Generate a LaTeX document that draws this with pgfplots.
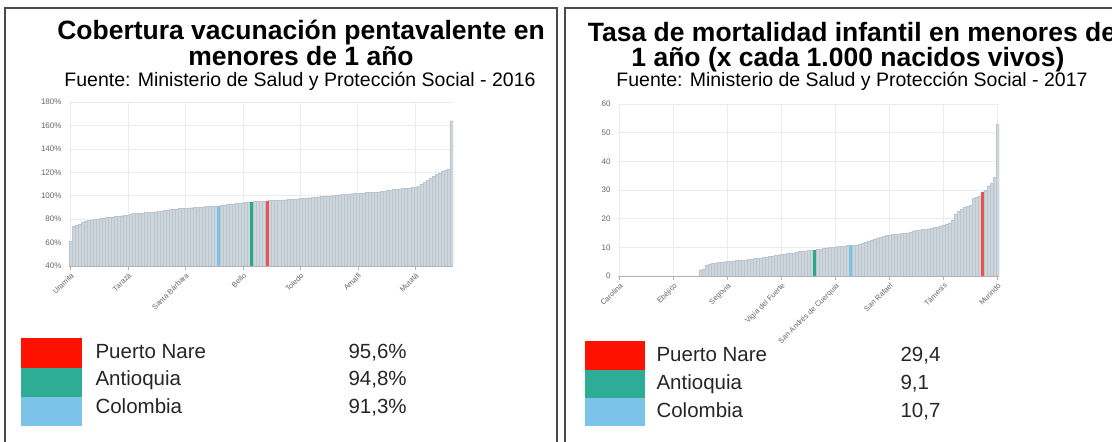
\documentclass[border=0pt]{standalone}
\usepackage{pgfplots}
\pgfplotsset{compat=1.18}
\usepackage{pgfplotstable}
\usepackage{fontspec}
\setmainfont{Liberation Sans}
\definecolor{barfill}{HTML}{CED6DD}
\definecolor{baredge}{HTML}{BCC5CD}
\definecolor{cred}{HTML}{E8554E}
\definecolor{cgreen}{HTML}{2BA88A}
\definecolor{cblue}{HTML}{7CC3EA}
\definecolor{lred}{HTML}{FF1100}
\definecolor{lgreen}{HTML}{2FAC95}
\definecolor{lblue}{HTML}{7BC3E9}
\definecolor{gridc}{HTML}{EBEBEB}
\definecolor{tickc}{HTML}{666666}
\definecolor{framec}{HTML}{4A4A4A}

\pgfplotstableread{
i v
0 61
1 74
2 75
3 76
4 77.5
5 78.5
6 79
7 79.5
8 80
9 80.3
10 80.6
11 81
12 81.3
13 81.7
14 82
15 82.3
16 82.6
17 82.9
18 83.2
19 83.5
20 84.5
21 84.8
22 85
23 85.2
24 85.4
25 85.6
26 85.8
27 86
28 86.3
29 86.6
30 86.9
31 87.3
32 87.7
33 88.2
34 88.5
35 88.8
36 89
37 89.2
38 89.4
39 89.6
40 89.8
41 90
42 90.2
43 90.4
44 90.6
45 90.8
46 91
47 91.1
48 91.2
49 91.3
50 91.6
51 92
52 92.4
53 92.8
54 93.1
55 93.4
56 93.7
57 94
58 94.3
59 94.6
60 94.8
61 95
62 95.1
63 95.3
64 95.5
65 95.6
66 95.8
67 96
68 96.2
69 96.4
70 96.5
71 96.6
72 96.7
73 96.8
74 97
75 97.3
76 97.6
77 97.9
78 98.1
79 98.3
80 98.5
81 98.7
82 99
83 99.3
84 99.6
85 99.8
86 100
87 100.3
88 100.6
89 100.9
90 101.1
91 101.3
92 101.5
93 101.7
94 101.9
95 102.1
96 102.3
97 102.5
98 102.7
99 102.8
100 103
101 103.1
102 103.3
103 103.5
104 104
105 104.4
106 104.8
107 105.2
108 105.5
109 105.8
110 106.1
111 106.4
112 106.7
113 107
114 107.4
115 108
116 109.5
117 111.5
118 113
119 115
120 116.5
121 118
122 119.5
123 121
124 122
125 123
126 164
}\vac

\pgfplotstableread{
i v
0 0
1 0
2 0
3 0
4 0
5 0
6 0
7 0
8 0
9 0
10 0
11 0
12 0
13 0
14 0
15 0
16 0
17 0
18 0
19 0
20 0
21 0
22 0
23 0
24 0
25 0
26 0
27 2.2
28 2.4
29 3.8
30 4.2
31 4.4
32 4.5
33 4.7
34 4.9
35 5.0
36 5.1
37 5.2
38 5.3
39 5.4
40 5.5
41 5.6
42 5.7
43 5.8
44 5.9
45 6.1
46 6.2
47 6.3
48 6.5
49 6.6
50 6.8
51 7.0
52 7.2
53 7.4
54 7.5
55 7.6
56 7.8
57 7.9
58 8.1
59 8.3
60 8.5
61 8.7
62 8.8
63 8.9
64 9.0
65 9.1
66 9.2
67 9.4
68 9.6
69 9.8
70 10
71 10.1
72 10.2
73 10.3
74 10.4
75 10.5
76 10.6
77 10.7
78 10.8
79 10.9
80 11.1
81 11.4
82 11.8
83 12.2
84 12.6
85 12.9
86 13.3
87 13.6
88 13.9
89 14.1
90 14.3
91 14.5
92 14.6
93 14.7
94 14.8
95 14.9
96 15.1
97 15.4
98 15.8
99 16
100 16.1
101 16.2
102 16.3
103 16.5
104 16.7
105 16.9
106 17.2
107 17.5
108 17.8
109 18.1
110 18.6
111 19.5
112 21.5
113 22.5
114 23.3
115 24
116 24.4
117 24.8
118 27
119 27.5
120 28
121 29.4
122 30
123 31.5
124 32.5
125 34.5
126 53
}\mort

\pgfplotsset{
  barchart/.style={
    scale only axis,
    anchor=south west,
    xmin=-0.5, xmax=126.5,
    axis lines*=left,
    axis line style={-},
    y axis line style={draw=none},
    x axis line style={draw=black!30},
    ytick style={draw=none},
    xtick style={draw=black!30},
    tick align=outside,
    major tick length=4pt,
    grid=major,
    grid style={draw=gridc, line width=0.7pt},
    /pgf/number format/assume math mode=true,
    yticklabel style={font=\fontsize{8}{9}\selectfont, text=tickc},
    xticklabel style={font=\fontsize{7.5}{8}\selectfont, text=tickc, rotate=45, anchor=north east, inner sep=1.5pt},
    clip=true,
  },
  graybar/.style={ybar, bar width=1, bar shift=0, fill=barfill, draw=baredge, line width=0.3pt},
  colbar/.style={ybar, bar width=1, bar shift=0, fill=#1, draw=none},
}

\begin{document}
\begin{tikzpicture}
\useasboundingbox (0pt,0pt) rectangle (1112pt,442pt);
\clip (0pt,0pt) rectangle (1112pt,442pt);
\fill[white] (0pt,0pt) rectangle (1112pt,442pt);

\begin{scope}[x=1pt,y=1pt]
% frames
\draw[framec, line width=1.3pt] (5,-10) -- (5,434) -- (557,434) -- (557,-10);
\draw[framec, line width=1.3pt] (565,-10) -- (565,434) -- (1130,434);

% left titles
\node[anchor=base, font=\fontsize{26.5}{30}\selectfont\bfseries] at (301,402) {Cobertura vacunación pentavalente en};
\node[anchor=base, font=\fontsize{26.5}{30}\selectfont\bfseries] at (301,376) {menores de 1 año};
\node[anchor=base, font=\fontsize{19.5}{22}\selectfont] at (300,355) {Fuente: Ministerio de Salud y Protección Social - 2016};

% left legend
\fill[lred] (21,104) rectangle (82,74);
\fill[lgreen] (21,74) rectangle (82,45);
\fill[lblue] (21,45) rectangle (82,16);
\begin{scope}[every node/.style={anchor=base west, font=\fontsize{20.5}{24}\selectfont, text=black!85}]
\node at (92,83) {Puerto Nare};
\node at (92,56) {Antioquia};
\node at (92,28) {Colombia};
\node at (345,83) {95,6\%};
\node at (345,56) {94,8\%};
\node at (345,28) {91,3\%};
\end{scope}

% right titles
\node[anchor=base, font=\fontsize{26.5}{30}\selectfont\bfseries] at (852,400) {Tasa de mortalidad infantil en menores de};
\node[anchor=base, font=\fontsize{26.5}{30}\selectfont\bfseries] at (848,375) {1 año (x cada 1.000 nacidos vivos)};
\node[anchor=base, font=\fontsize{19.5}{22}\selectfont] at (852,355) {Fuente: Ministerio de Salud y Protección Social - 2017};

% right legend
\fill[lred] (585,101) rectangle (645,72);
\fill[lgreen] (585,72) rectangle (645,44);
\fill[lblue] (585,44) rectangle (645,16);
\begin{scope}[every node/.style={anchor=base west, font=\fontsize{20.5}{24}\selectfont, text=black!85}]
\node at (653,80) {Puerto Nare};
\node at (653,52) {Antioquia};
\node at (653,24) {Colombia};
\node at (897,80) {29,4};
\node at (897,52) {9,1};
\node at (897,24) {10,7};
\end{scope}
\end{scope}

\begin{axis}[barchart,
  at={(69pt,176pt)}, width=384pt, height=164pt,
  ymin=40, ymax=180, ytick={40,60,...,180},
  yticklabel={\pgfmathprintnumber{\tick}\%},
  xtick={0,19,38,57,76,95,114},
  xticklabels={Uramita,Tarazá,Santa Bárbara,Bello,Toledo,Amalfi,Mutatá},
]
\addplot[graybar] table[x=i,y=v] {\vac};
\addplot[colbar=cblue] coordinates {(49,91.3)};
\addplot[colbar=cgreen] coordinates {(60,94.8)};
\addplot[colbar=cred] coordinates {(65,95.6)};
\end{axis}

\begin{axis}[barchart,
  at={(618pt,166pt)}, width=381pt, height=172pt,
  ymin=0, ymax=60, ytick={0,10,...,60},
  xtick={0,18,36,54,72,90,108,126},
  xticklabels={Carolina,Ebéjico,Segovia,Vigía del Fuerte,San Andrés de Cuerquia,San Rafael,Támesis,Murindó},
]
\addplot[graybar] table[x=i,y=v] {\mort};
\addplot[colbar=cgreen] coordinates {(65,9.1)};
\addplot[colbar=cblue] coordinates {(77,10.7)};
\addplot[colbar=cred] coordinates {(121,29.4)};
\end{axis}
\end{tikzpicture}
\end{document}
